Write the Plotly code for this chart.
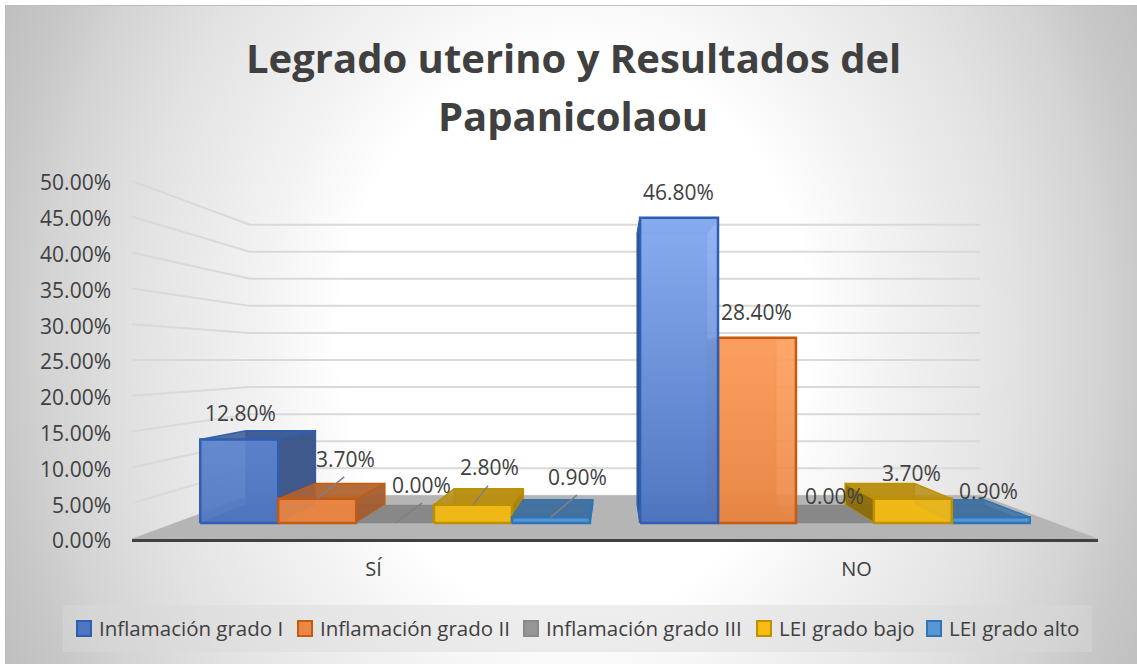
import base64
import plotly.graph_objects as go

#--------------------------------------------------------------
# Data (percent)

CATEGORIES = ["SÍ", "NO"]
SERIES = ["Inflamación grado I", "Inflamación grado II", "Inflamación grado III",
          "LEI grado bajo", "LEI grado alto"]
INFLAMACION_I = [12.8, 46.8]
INFLAMACION_II = [3.7, 28.4]
INFLAMACION_III = [0.0, 0.0]
LEI_BAJO = [2.8, 3.7]
LEI_ALTO = [0.9, 0.9]
Y_TICKS = [0, 5, 10, 15, 20, 25, 30, 35, 40, 45, 50]
TITLE_LINES = ["Legrado uterino y Resultados del", "Papanicolaou"]

#--------------------------------------------------------------
# Styles

VALUES = [INFLAMACION_I, INFLAMACION_II, INFLAMACION_III, LEI_BAJO, LEI_ALTO]
BASE = [(78, 117, 194), (235, 135, 68), (150, 150, 150), (245, 188, 20), (88, 150, 212)]
LIGHT = [(138, 176, 245), (255, 160, 95), (170, 170, 170), (255, 200, 40), (110, 170, 225)]
EDGE = ["#2f5fb0", "#c55a11", "#8a8a8a", "#bf9000", "#2e75b6"]
TEXT = "#404040"
FONT = "Open Sans"

# plot area in page pixels
W, H = 1137, 664
L, R, T, B = 132, 1098, 181, 539

# 3d projection, everything shrinks towards the middle of the plot area
VX, VY = 1.0, 25.0
S_WALL, S_FRONT, S_BACK = 0.756, 0.9106, 0.81
BAR_W = 0.1772

# label offsets from the top middle of the front face (pixels), leader ends
LABEL_OFF = [[(1, 27), (28, 40), (26, 38), (16, 38), (27, 40)],
             [(-1, 26), (0, 26), (0, 27), (-1, 26), (-2, 26)]]
LEADER_OFF = [[None, (27, 22), (27, 20), (15, 19), (26, 22)],
              [None, None, None, None, None]]

# legend layout: swatch left edge and text left edge in pixels
LEGEND_SWATCH = [77, 298, 524, 757, 927]
LEGEND_TEXT = [97, 318, 544, 777, 947]


def proj(x, v, s):
    return VX + s * (x - VX), VY + s * (v - VY)


def poly(points):
    xs = [p[0] for p in points] + [points[0][0]]
    ys = [p[1] for p in points] + [points[0][1]]
    return xs, ys


def rgba(c, a, k=1.0):
    return "rgba(%d,%d,%d,%s)" % (c[0] * k, c[1] * k, c[2] * k, a)


def px_x(p):
    return (p - L) / (R - L)


def px_y(p):
    return (B - p) / (B - T)


fig = go.Figure()


def add_face(points, fill, edge, width=1.5, gradient=None):
    xs, ys = poly(points)
    kw = dict(fillgradient=gradient) if gradient else dict(fillcolor=fill)
    fig.add_trace(go.Scatter(x=xs, y=ys, mode="lines", fill="toself",
                             line=dict(color=edge, width=width),
                             hoverinfo="skip", showlegend=False, **kw))


#--------------------------------------------------------------
# Floor and wall gridlines

add_face([proj(0, 0, 1), proj(2, 0, 1), proj(2, 0, S_WALL), proj(0, 0, S_WALL)],
         "#b5b5b5", "#b5b5b5", 0.5)

for tick in Y_TICKS[1:]:
    a, b, c = proj(0, tick, 1), proj(0, tick, S_WALL), proj(2, tick, S_WALL)
    fig.add_trace(go.Scatter(x=[a[0], b[0], c[0]], y=[a[1], b[1], c[1]], mode="lines",
                             line=dict(color="#d9d9d9", width=2),
                             hoverinfo="skip", showlegend=False))

#--------------------------------------------------------------
# Bars, painted from the outside towards the vanishing point


def add_bar(c, k):
    v = VALUES[k][c]
    x0 = c + 0.5 + (k - 2.5) * BAR_W
    x1 = x0 + BAR_W
    col, edge = BASE[k], EDGE[k]
    f = [proj(x0, 0, S_FRONT), proj(x1, 0, S_FRONT), proj(x1, v, S_FRONT), proj(x0, v, S_FRONT)]
    b = [proj(x0, 0, S_BACK), proj(x1, 0, S_BACK), proj(x1, v, S_BACK), proj(x0, v, S_BACK)]

    if k == 2:
        # empty series only leaves its dark footprint on the floor
        add_face([f[0], f[1], b[1], b[0]], "#888888", "#888888", 0.5)
        return

    add_face(b, rgba(col, 0.75, 0.8), edge, 1)
    add_face([f[0], f[1], b[1], b[0]], rgba(col, 0.8, 0.7), edge, 1)
    # side face turned to the middle
    if x1 < VX:
        add_face([f[1], b[1], b[2], f[2]], rgba(col, 0.8, 0.68), edge, 1.5)
    else:
        add_face([f[0], b[0], b[3], f[3]], rgba(col, 0.85, 0.55), edge, 1.5)
    add_face([f[3], f[2], b[2], b[3]], rgba(col, 0.85, 0.75), edge, 1.5)

    mix = min(1, v / 28) ** 2
    top = tuple(BASE[k][i] + (LIGHT[k][i] - BASE[k][i]) * mix for i in range(3))
    add_face(f, None, edge, 2.5,
             gradient=dict(type="vertical", start=f[0][1], stop=f[3][1],
                           colorscale=[[0, rgba(col, 0.92)], [1, rgba(top, 0.92)]]))


for c in range(len(CATEGORIES)):
    order = range(len(SERIES))
    if c == 1:
        order = reversed(order)
    for k in order:
        add_bar(c, k)

#--------------------------------------------------------------
# Data labels and leader lines

notes = []
for c in range(len(CATEGORIES)):
    for k in range(len(SERIES)):
        v = VALUES[k][c]
        ax, ay = proj(c + 0.5 + (k - 2) * BAR_W, v, S_FRONT)
        ox, oy = LABEL_OFF[c][k]
        notes.append(dict(x=ax, y=ay, xref="x", yref="y", text="%.2f%%" % v, showarrow=False,
                          xshift=ox, yshift=oy, font=dict(family=FONT, size=21, color=TEXT)))
        if LEADER_OFF[c][k]:
            lx, ly = LEADER_OFF[c][k]
            fig.add_trace(go.Scatter(x=[ax, ax + lx * 2 / (R - L)],
                                     y=[ay, ay + ly * Y_TICKS[-1] / (B - T)], mode="lines",
                                     line=dict(color="#808080", width=1.5),
                                     hoverinfo="skip", showlegend=False))

#--------------------------------------------------------------
# Title lines and legend, placed by hand to keep Excel's spacing

for text, py in zip(TITLE_LINES, [57, 116]):
    notes.append(dict(x=px_x(573), y=px_y(py), xref="paper", yref="paper", text=text, showarrow=False,
                      xanchor="center", yanchor="middle",
                      font=dict(family=FONT, size=40, color=TEXT, weight="bold")))

shapes = [dict(type="rect", xref="paper", yref="paper", x0=px_x(63), x1=px_x(1092),
               y0=px_y(605), y1=px_y(652), fillcolor="rgba(217,217,217,0.45)", line_width=0,
               layer="below")]

for k, name in enumerate(SERIES):
    shapes.append(dict(type="rect", xref="paper", yref="paper",
                       x0=px_x(LEGEND_SWATCH[k]), x1=px_x(LEGEND_SWATCH[k] + 14),
                       y0=px_y(621), y1=px_y(636), fillcolor=rgba(BASE[k], 1),
                       line=dict(color=EDGE[k], width=2)))
    notes.append(dict(x=px_x(LEGEND_TEXT[k]), y=px_y(628), xref="paper", yref="paper", text=name,
                      showarrow=False, xanchor="left", yanchor="middle",
                      font=dict(family=FONT, size=20.5, color=TEXT)))

#--------------------------------------------------------------
# Background: radial grey gradient as an svg picture

svg = ('<svg xmlns="http://www.w3.org/2000/svg" width="%d" height="%d">'
       '<defs><radialGradient id="g" gradientUnits="userSpaceOnUse" cx="575" cy="335" r="650" '
       'gradientTransform="translate(0 335) scale(1 1.2) translate(0 -335)">'
       '<stop offset="0.36" stop-color="#ffffff"/><stop offset="0.48" stop-color="#f3f3f3"/>'
       '<stop offset="0.68" stop-color="#e2e2e2"/><stop offset="0.815" stop-color="#d3d3d3"/>'
       '<stop offset="0.877" stop-color="#c9c9c9"/><stop offset="1" stop-color="#bcbcbc"/>'
       '</radialGradient></defs>'
       '<rect width="%d" height="%d" fill="#ffffff"/>'
       '<rect x="5.5" y="5.5" width="%d" height="%d" fill="url(#g)" stroke="#bdbdbd"/></svg>'
       % (W, H, W, H, W, H))
background = "data:image/svg+xml;base64," + base64.b64encode(svg.encode()).decode()

fig.update_layout(
    width=W, height=H,
    margin=dict(l=L, r=W - R, t=T, b=H - B, pad=0, autoexpand=False),
    paper_bgcolor="white", plot_bgcolor="rgba(0,0,0,0)",
    font=dict(family=FONT, color=TEXT, size=20),
    showlegend=False,
    xaxis=dict(range=[0, 2], tickvals=[0.5, 1.5], ticktext=CATEGORIES, showgrid=False, zeroline=False,
               showline=True, linecolor="#404040", linewidth=3, ticks="", ticklabelstandoff=10,
               tickfont=dict(size=20, color=TEXT)),
    yaxis=dict(range=[0, Y_TICKS[-1]], tickvals=Y_TICKS, ticktext=["%.2f%%" % t for t in Y_TICKS],
               showgrid=False, zeroline=False, ticks="", ticklabelstandoff=20, ticklabelshift=2,
               tickfont=dict(size=21, color=TEXT)),
    images=[dict(source=background, xref="paper", yref="paper", x=px_x(0), y=px_y(0),
                 sizex=W / (R - L), sizey=H / (B - T), sizing="stretch", layer="below")],
    shapes=shapes,
    annotations=notes,
)

fig.write_html("out.html", config={"displayModeBar": False},
               post_script="document.body.style.margin='0';")
